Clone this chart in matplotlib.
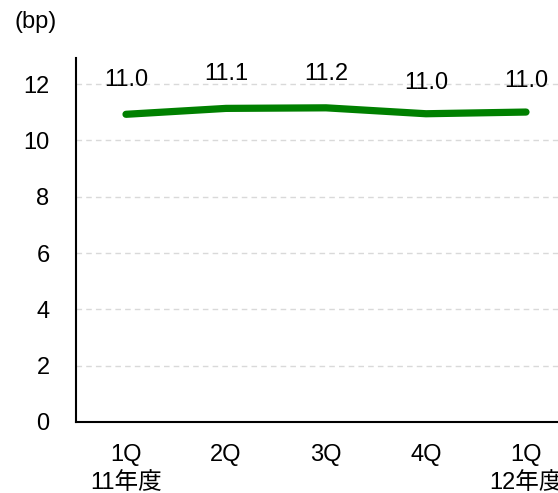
import matplotlib
matplotlib.use("Agg")
import matplotlib.pyplot as plt

plt.rcParams['font.family'] = ['Liberation Sans', 'Noto Sans CJK JP', 'DejaVu Sans']

categories = ["1Q\n11年度", "2Q", "3Q", "4Q", "1Q\n12年度"]
values = [10.93, 11.14, 11.16, 10.95, 11.01]
labels = ["11.0", "11.1", "11.2", "11.0", "11.0"]
label_offsets = [34, 34, 34, 31, 31]
yticks = [0, 2, 4, 6, 8, 10, 12]

fig = plt.figure(figsize=(5.58, 4.93), dpi=100)
ax = fig.add_axes([76/558, 71/493, 500/558, 364/493])

x = list(range(len(categories)))
ax.plot(x, values, color='#008000', linewidth=5.2, solid_capstyle='round', solid_joinstyle='round', zorder=3)

for xi, v, lab, off in zip(x, values, labels, label_offsets):
    ax.annotate(lab, (xi, v), xytext=(0, off), textcoords='offset pixels',
                ha='center', va='center', fontsize=17, color='#000000')

ax.set_xlim(-0.5, 4.5)
ax.set_ylim(0, 12.93)
ax.set_yticks(yticks)
ax.set_yticklabels([str(t) for t in yticks])
ax.set_xticks(x)
ax.set_xticklabels(categories, linespacing=1.35)
ax.tick_params(axis='both', length=0, labelsize=17, colors='#000000')
ax.tick_params(axis='y', pad=19)
ax.tick_params(axis='x', pad=16)

for t in yticks[1:]:
    ax.axhline(t, color='#d9d9d9', linewidth=1, linestyle=(0, (4, 3)), zorder=1)

ax.spines['top'].set_visible(False)
ax.spines['right'].set_visible(False)
ax.spines['left'].set_linewidth(1.5)
ax.spines['bottom'].set_linewidth(1.5)

fig.text(36/558, 1 - 22/493, "(bp)", ha='center', va='center', fontsize=17)

fig.savefig("out.png", dpi=100)
